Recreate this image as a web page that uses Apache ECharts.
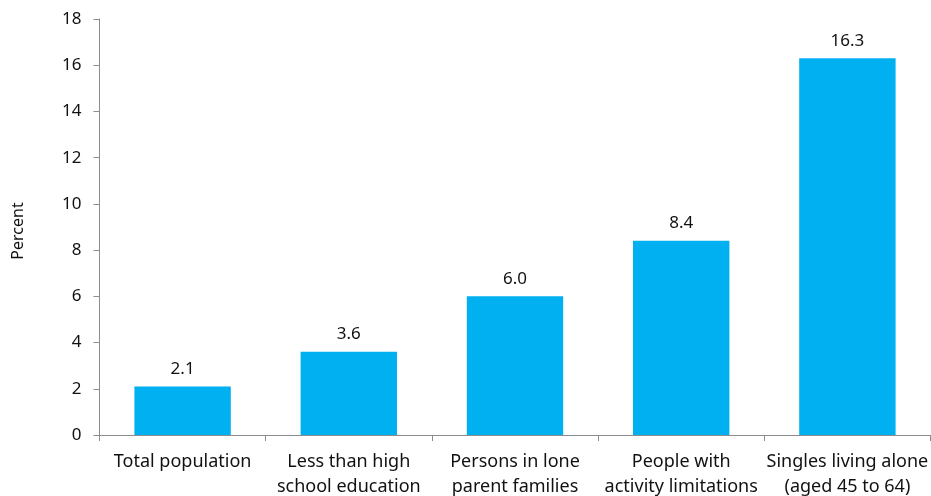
<!DOCTYPE html>
<html>
<head>
<meta charset="utf-8">
<script src="https://cdn.jsdelivr.net/npm/echarts@6/dist/echarts.min.js"></script>
<style>
  html, body { margin: 0; padding: 0; background: #fff; }
  #chart { width: 931px; height: 496px; }
</style>
</head>
<body>
<div id="chart"></div>
<script>
// Share of each group, in percent
const categories = [
  'Total population',
  'Less than high\nschool education',
  'Persons in lone\nparent families',
  'People with\nactivity limitations',
  'Singles living alone\n(aged 45 to 64)'
];
const values = [2.1, 3.6, 6.0, 8.4, 16.3];
const yTicks = [0, 2, 4, 6, 8, 10, 12, 14, 16, 18];

const FONT = '"Noto Sans", sans-serif';
const chart = echarts.init(document.getElementById('chart'));

chart.setOption({
  animation: false,
  grid: {
    left: 99.5, right: 0.5, top: 19, bottom: 61,
    containLabel: false, outerBoundsMode: 'none'
  },
  xAxis: {
    type: 'category',
    data: categories,
    axisLine: { lineStyle: { color: '#8c8c8c', width: 1 } },
    axisTick: { show: true, alignWithLabel: false, length: 6, inside: false, lineStyle: { color: '#8c8c8c' } },
    axisLabel: {
      color: '#111', fontFamily: FONT, fontSize: 18, lineHeight: 25, margin: 14, interval: 0
    }
  },
  yAxis: {
    type: 'value',
    min: yTicks[0],
    max: yTicks[yTicks.length - 1],
    interval: 2,
    name: 'Percent',
    nameLocation: 'middle',
    nameRotate: 90,
    nameGap: 73,
    nameTextStyle: { color: '#111', fontFamily: FONT, fontSize: 16, padding: [0, 8, 0, 0] },
    splitLine: { show: false },
    axisLine: { show: true, lineStyle: { color: '#8c8c8c', width: 1 } },
    axisTick: { show: true, length: 6, lineStyle: { color: '#8c8c8c' } },
    axisLabel: { color: '#111', fontFamily: FONT, fontSize: 17, margin: 18 }
  },
  series: [{
    type: 'bar',
    data: values,
    barCategoryGap: '42%',
    itemStyle: { color: '#00B0F0' },
    label: {
      show: true,
      position: 'top',
      distance: 9,
      color: '#111',
      fontFamily: FONT,
      fontSize: 17,
      formatter: p => p.value.toFixed(1)
    }
  }]
});
</script>
</body>
</html>
